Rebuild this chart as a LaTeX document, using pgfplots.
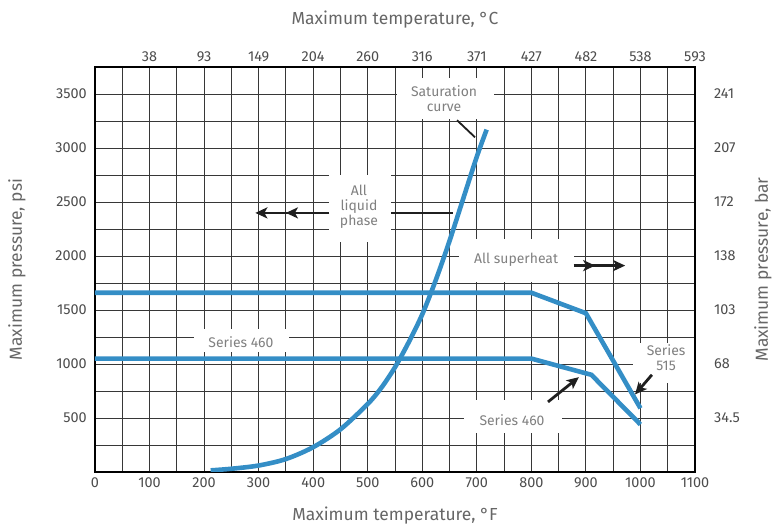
\documentclass[border=0pt]{standalone}
\usepackage{fontspec}
\setmainfont{Fira Sans}
\usepackage{pgfplots}
\pgfplotsset{compat=1.18}
\usetikzlibrary{arrows.meta}
\definecolor{pblue}{RGB}{52,142,198}
\definecolor{gridc}{RGB}{55,55,55}
\begin{document}
\begin{tikzpicture}[arr/.style={black!88, line width=2.8bp, -{Stealth[length=12bp,width=11bp,inset=3bp]}}]
\pgfplotsset{common/.style={width=600bp,height=405bp,scale only axis,
  xmin=0,xmax=1100,ymin=0,ymax=3750,
  ytick={500,1000,...,3500},
  major tick length=0pt, minor tick length=0pt,
  scaled ticks=false,
  /pgf/number format/assume math mode=true,
  /pgf/number format/1000 sep={},
  ticklabel style={font=\fontsize{14.5}{16}\selectfont, text=black!70, inner sep=0pt},
  axis line style={black, line width=1.3bp}}}
\begin{axis}[common, name=ax,
  xtick={0,100,...,1100},
  minor xtick={50,150,...,1050},
  minor ytick={250,750,...,3750},
  grid=both,
  major grid style={gridc, line width=0.85bp},
  minor grid style={gridc, line width=0.85bp},
  xticklabel style={anchor=center, yshift=-11bp},
  yticklabel style={anchor=east, xshift=-8bp}]
% Saturation curve
\addplot[pblue, line width=4.6bp, no markers, smooth, tension=0.5] coordinates {
(212,15) (250,30) (300,60) (350,120) (400,230) (450,395) (500,630) (525,780)
(550,970) (575,1200) (600,1460) (625,1780) (650,2140) (675,2530) (700,2920) (718,3170)};
% Series 515
\addplot[pblue, line width=4.6bp, no markers] coordinates {
(0,1660) (800,1660) (900,1470) (1000,590)};
% Series 460
\addplot[pblue, line width=4.6bp, no markers] coordinates {
(0,1050) (800,1050) (910,900) (1000,440)};
% label boxes
\fill[white] (axis cs:554,3267) rectangle (axis cs:731,3648);
\node[align=center, font=\fontsize{14}{15}\selectfont, text=black!50] at (axis cs:640,3453) {Saturation\\curve};
\draw[black!88, line width=1.8bp] (axis cs:663.7,3257) -- (axis cs:696.7,3099);
\fill[white] (axis cs:429,2134) rectangle (axis cs:543,2748);
\node[align=center, font=\fontsize{14}{15}\selectfont, text=black!50] at (axis cs:484,2459) {All\\liquid\\phase};
\draw[arr] (axis cs:429,2399) -- (axis cs:294,2399);
\draw[arr] (axis cs:429,2399) -- (axis cs:350,2399);
\draw[black!88, line width=2.8bp] (axis cs:543,2399) -- (axis cs:656,2399);
\fill[white] (axis cs:667,1763) rectangle (axis cs:878,2153);
\node[font=\fontsize{14}{15}\selectfont, text=black!50] at (axis cs:772,1967) {All superheat};
\draw[arr] (axis cs:878,1911) -- (axis cs:972,1911);
\draw[arr] (axis cs:878,1911) -- (axis cs:917,1911);
\fill[white] (axis cs:181.5,1114) rectangle (axis cs:355.7,1326);
\node[font=\fontsize{14}{15}\selectfont, text=black!50] at (axis cs:267.6,1205) {Series 460};
\fill[white] (axis cs:676.5,360) rectangle (axis cs:856,667);
\node[font=\fontsize{14}{15}\selectfont, text=black!50] at (axis cs:764.5,481) {Series 460};
\draw[arr] (axis cs:830.5,649) -- (axis cs:887,878);
\fill[white] (axis cs:986,826) rectangle (axis cs:1100,1197);
\node[align=center, font=\fontsize{14}{14.5}\selectfont, text=black!50] at (axis cs:1047,1058) {Series\\515};
\draw[arr] (axis cs:1021,900) -- (axis cs:990,718);
\end{axis}
\begin{axis}[common,
  axis x line*=top, axis y line*=right,
  xtick={100,200,...,1100},
  xticklabels={38,93,149,204,260,316,371,427,482,538,593},
  yticklabels={34.5,68,103,138,172,207,241},
  xticklabel style={anchor=center, yshift=10bp},
  yticklabel style={anchor=west, xshift=19bp}]
\addplot[draw=none, forget plot] coordinates {(0,0)};
\end{axis}
\node[font=\fontsize{17.5}{19}\selectfont, text=black!60] at ([yshift=-44bp]ax.south) {Maximum temperature, °F};
\node[font=\fontsize{17.5}{19}\selectfont, text=black!60] at ([yshift=47bp]ax.north) {Maximum temperature, °C};
\node[font=\fontsize{17.5}{19}\selectfont, text=black!60, rotate=90] at ([xshift=-78bp]ax.west) {Maximum pressure, psi};
\node[font=\fontsize{17.5}{19}\selectfont, text=black!60, rotate=90] at ([xshift=68bp]ax.east) {Maximum pressure, bar};
\pgfresetboundingbox
\path[use as bounding box] ([xshift=-95bp,yshift=-55bp]ax.south west) rectangle ([xshift=80bp,yshift=67bp]ax.north east);
\end{tikzpicture}
\end{document}
